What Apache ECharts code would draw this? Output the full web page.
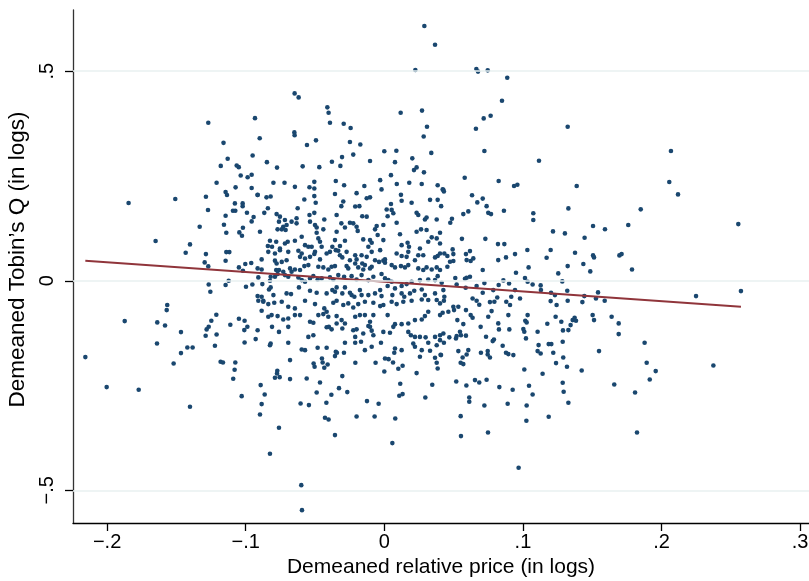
<!DOCTYPE html>
<html><head><meta charset="utf-8">
<script src="https://cdn.jsdelivr.net/npm/echarts@6/dist/echarts.min.js"></script>
<style>html,body{margin:0;padding:0;background:#fff}#c{width:809px;height:581px}</style>
</head><body><div id="c"></div>
<script>
// Tick values
const xTicks = [-0.2, -0.1, 0, 0.1, 0.2, 0.3];
const yTicks = [-0.5, 0, 0.5];
// Fitted line endpoints (x at data min / max)
const fitX = [-0.2157, 0.2573];
const fitY = [0.0477, -0.0618];
// Observations: [demeaned relative price, demeaned Tobin's Q]
const obsUpperLeft = [
[-0.127,0.377],[-0.0933,0.388],[-0.0899,0.340],[-0.116,0.329],[-0.095,0.299],[-0.113,0.291],[-0.118,0.274],[-0.1065,0.275],[-0.105,0.271],[-0.1036,0.251],[-0.0986,0.247],[-0.0957,0.253],[-0.121,0.234]
];
const obsUpperMid = [
[0.0289,0.608],[0.0366,0.563],[0.0224,0.503],[-0.0647,0.447],[-0.0618,0.4375],[-0.0411,0.4137],[-0.0402,0.401],[0.0118,0.401],[0.0272,0.406],[-0.0392,0.377],[-0.0293,0.3747],[-0.0243,0.3644],[0.0308,0.3675],[-0.0649,0.354],[-0.0647,0.347],[-0.0558,0.324],[-0.0493,0.335],[-0.0248,0.331],[-0.0173,0.325],[-0.0224,0.301],[0,0.309],[0.0087,0.310],[0.0284,0.344],[0.0339,0.305],[-0.0847,0.283],[-0.0774,0.270],[-0.0589,0.273],[-0.0469,0.271],[-0.0378,0.284],[-0.0305,0.295],[-0.0317,0.274],[-0.0103,0.2856],[0.0077,0.283],[0.0202,0.292],[0.0233,0.2705],[0.0214,0.264],[0.0286,0.2586],[0.0048,0.252],
[0.0664,0.505],[0.0676,0.499],[0.0746,0.502],[0.0887,0.4845],[0.0849,0.4296],[0.0717,0.3874],[0.0767,0.3938],[0.0661,0.3628],[0.1323,0.3675],[0.0722,0.3095],[0.1116,0.2864],[0.058,0.2458],
[0.2068,0.3095]
];
const obsLeft = [
[-0.1073,0.2228],[-0.0957,0.2212],[-0.1145,0.2116],[-0.1135,0.2045],[-0.1287,0.2005],[-0.0914,0.2045],[-0.1845,0.1854],[-0.1508,0.195],[-0.1078,0.1846],[-0.1022,0.1846],[-0.1022,0.178],[-0.1272,0.1687],[-0.1092,0.167],[-0.1075,0.167],[-0.0991,0.1623],[-0.0943,0.152],[-0.0957,0.1416],[-0.1145,0.1551],[-0.1332,0.1289],[-0.1157,0.1337],[-0.114,0.1146],[-0.1046,0.1154],[-0.102,0.1265],[-0.1027,0.1074],[-0.165,0.0947],[-0.1402,0.0867],[-0.1433,0.0668],[-0.1287,0.0636],[-0.114,0.0684],[-0.1118,0.0684],[-0.1296,0.0438],[-0.127,0.0342],[-0.1145,0.0477],[-0.1049,0.0318],[-0.1003,0.0398],[-0.096,0.0422],[-0.102,0.0239],[-0.1123,0],[-0.1145,-0.0103],[-0.1267,-0.0088],[-0.1255,-0.0263],[-0.0998,-0.0143],[-0.0952,-0.0088],[-0.0909,-0.0477],[-0.1566,-0.058],[-0.157,-0.07],[-0.1873,-0.0963],[-0.1638,-0.0994],[-0.1582,-0.1066],[-0.1467,-0.1225],[-0.1212,-0.0811],[-0.1248,-0.0955],[-0.1267,-0.1098],[-0.1282,-0.1161],[-0.1289,-0.1313],[-0.121,-0.1281],[-0.1111,-0.105],[-0.1049,-0.0907],[-0.1008,-0.0955],[-0.0988,-0.1098],[-0.101,-0.1177],[-0.0928,-0.1392],[-0.1008,-0.1472],[-0.1222,-0.1551],[-0.164,-0.1496],[-0.1421,-0.1591],[-0.1383,-0.1591]
];
const obsCenter = [
[-0.080,0.234],[-0.072,0.234],[-0.0645,0.224],[-0.054,0.223],[-0.0505,0.236],[-0.0505,0.220],[-0.035,0.238],[-0.029,0.228],[-0.0144,0.226],[-0.003,0.240],[-0.002,0.218],[0.009,0.231],[0.018,0.234],[0.027,0.231],[0.0385,0.228],[0.0426,0.217],
[-0.0914,0.205],[-0.085,0.199],[-0.082,0.201],[-0.0505,0.202],[-0.0356,0.207],[-0.020,0.209],[-0.0103,0.199],[-0.0127,0.197],[0.012,0.205],[0.0197,0.186],[0.033,0.193],[0.0385,0.193],
[-0.084,0.173],[-0.0866,0.162],[-0.0625,0.173],[-0.0495,0.186],[-0.0577,0.194],[-0.031,0.178],[-0.0296,0.189],[-0.021,0.177],[-0.018,0.178],[0.0048,0.183],[0.0125,0.191],[0.0017,0.170],[0.0053,0.169],[0.0233,0.162],[0.041,0.178],
[-0.0777,0.159],[-0.0753,0.153],[-0.0717,0.145],[-0.076,0.141],[-0.0669,0.141],[-0.0633,0.149],[-0.0633,0.137],[-0.054,0.157],[-0.0505,0.162],[-0.0536,0.141],[-0.050,0.133],[-0.0433,0.146],[-0.0344,0.157],[-0.031,0.137],[-0.0248,0.1385],[-0.0224,0.137],[-0.0159,0.154],[-0.0127,0.153],[0.0024,0.154],[0.0065,0.161],[0.0089,0.1385],[0.0245,0.157],[0.0293,0.146],[0.0305,0.151],[0.0378,0.146],
[-0.0897,0.117],[-0.077,0.1226],[-0.0729,0.129],[-0.074,0.1226],[-0.0705,0.133],[-0.0712,0.121],[-0.0488,0.127],[-0.0488,0.1146],[-0.044,0.1226],[-0.0344,0.117],[-0.0284,0.127],[-0.020,0.129],[-0.0192,0.119],[-0.0067,0.1226],[-0.0055,0.1305],[-0.0007,0.133],[-0.0048,0.109],[0.0113,0.111],[0.0233,0.117],[0.0265,0.1226],[0.0305,0.121],[0.0402,0.1146],
[-0.0825,0.0955],[-0.084,0.083],[-0.081,0.081],[-0.0753,0.077],[-0.078,0.093],[-0.0717,0.089],[-0.0697,0.093],[-0.0645,0.0955],[-0.0596,0.105],[-0.0476,0.101],[-0.0464,0.093],[-0.0572,0.085],[-0.0548,0.081],[-0.0524,0.081],[-0.0452,0.081],[-0.0356,0.097],[-0.0284,0.0955],[-0.0375,0.081],[-0.032,0.083],[-0.0152,0.0987],[-0.0103,0.097],[-0.0091,0.0907],[-0.0115,0.081],[-0.0007,0.097],[0.0125,0.085],[0.0168,0.0907],[0.0178,0.081],[0.0257,0.077],[0.0317,0.093],[0.0342,0.1035],[0.0378,0.101],[0.0402,0.089],
[-0.0885,0.051],[-0.0837,0.069],[-0.0789,0.065],[-0.0753,0.073],[-0.0693,0.069],[-0.062,0.0716],[-0.0596,0.065],[-0.0608,0.057],[-0.0572,0.053],[-0.0536,0.057],[-0.050,0.069],[-0.0505,0.064],[-0.0464,0.051],[-0.0416,0.065],[-0.0392,0.069],[-0.035,0.073],[-0.0332,0.0716],[-0.032,0.061],[-0.0272,0.069],[-0.0303,0.0557],[-0.0248,0.049],[-0.021,0.061],[-0.020,0.051],[-0.0159,0.041],[-0.0164,0.061],[-0.0127,0.057],[-0.0091,0.069],[-0.003,0.073],[-0.0067,0.049],[-0.0038,0.045],[-0.0007,0.048],[0.0005,0.051],[0.0089,0.065],[0.0125,0.059],[0.0161,0.057],[0.0173,0.069],[0.0221,0.049],[0.0245,0.061],[0.0281,0.061],[0.0366,0.0557],[0.0385,0.059],[0.0402,0.065],[0.0433,0.065],
[-0.0914,0.0295],[-0.0885,0.027],[-0.0789,0.048],[-0.0777,0.041],[-0.074,0.045],[-0.0705,0.049],[-0.068,0.0295],[-0.078,0.0255],[-0.076,0.0255],[-0.0729,0.0215],[-0.0669,0.0215],[-0.0645,0.027],[-0.0608,0.0255],[-0.0577,0.035],[-0.0548,0.0374],[-0.0476,0.0334],[-0.044,0.0318],[-0.0404,0.027],[-0.038,0.0334],[-0.0356,0.035],[-0.0272,0.035],[-0.026,0.0295],[-0.021,0.041],[-0.0188,0.0318],[-0.014,0.0374],[-0.0152,0.027],[-0.0103,0.0295],[-0.0091,0.0334],[0.0005,0.043],[0.0053,0.0374],[0.0077,0.0318],[0.012,0.035],[0.0149,0.0318],[0.0173,0.0374],[0.0245,0.0295],[0.0281,0.0255],[0.0305,0.0318],[0.0342,0.027],[0.0378,0.0318],[0.0402,0.0255],
[-0.0909,0.008],[-0.088,-0.008],[-0.0825,0],[-0.082,0.0096],[-0.0789,0.0096],[-0.077,0.016],[-0.0717,0.0135],[-0.0693,0.0096],[-0.062,0.008],[-0.0596,0.0016],[-0.0572,-0.0024],[-0.0536,0.0056],[-0.0512,0.011],[-0.0481,0.003],[-0.0452,0.0056],[-0.0392,0.008],[-0.0368,0.003],[-0.0332,0.0135],[-0.029,0.0096],[-0.0236,0.011],[-0.020,0.003],[-0.0164,0.0135],[-0.0115,0.0016],[-0.0079,0.0096],[-0.002,0.016],[0.0005,0.0056],[0.0029,0.0016],[0.0024,-0.0127],[0.0053,-0.0024],[0.0125,-0.0127],[0.0161,-0.008],[0.0197,-0.0024],[0.0257,0.0016],[0.0317,0.003],[0.0366,0.0016],[0.0385,0.011],[0.0414,-0.0048],
[-0.0914,-0.0366],[-0.0885,-0.0382],[-0.0832,-0.0207],[-0.082,-0.0159],[-0.080,-0.0342],[-0.0873,-0.0478],[-0.0705,-0.0302],[-0.0673,-0.0318],[-0.0616,-0.0159],[-0.0536,-0.0239],[-0.0488,-0.0287],[-0.0416,-0.0302],[-0.0375,-0.0223],[-0.0344,-0.0159],[-0.0356,-0.0263],[-0.0284,-0.0159],[-0.0303,-0.0302],[-0.0248,-0.0287],[-0.0236,-0.0342],[-0.0216,-0.0382],[-0.0176,-0.0223],[-0.0164,-0.0342],[-0.0115,-0.0342],[-0.0067,-0.0302],[-0.003,-0.0223],[-0.002,-0.0366],[0.0058,-0.0342],[0.0077,-0.0183],[0.0125,-0.0302],[0.0144,-0.0382],[0.0185,-0.0302],[0.0216,-0.0239],[0.027,-0.0207],[0.0293,-0.0342],[0.0366,-0.0302],[0.0426,-0.0223],
[-0.0873,-0.050],[-0.0837,-0.0557],[-0.0794,-0.0525],[-0.074,-0.050],[-0.0693,-0.062],[-0.0645,-0.066],[-0.0572,-0.0478],[-0.050,-0.0557],[-0.0433,-0.066],[-0.0416,-0.074],[-0.0368,-0.0525],[-0.0344,-0.0478],[-0.0296,-0.058],[-0.026,-0.054],[-0.0224,-0.0637],[-0.0188,-0.0557],[-0.014,-0.050],[-0.0079,-0.0525],[-0.003,-0.0605],[-0.0007,-0.058],[0.0053,-0.050],[0.0089,-0.0557],[0.0137,-0.050],[0.0197,-0.0478],[0.027,-0.0446],[0.0317,-0.046],[0.0378,-0.046],[0.0402,-0.054],
[-0.0885,-0.0716],[-0.0837,-0.086],[-0.0813,-0.082],[-0.077,-0.0844],[-0.0729,-0.0923],[-0.0693,-0.090],[-0.0645,-0.082],[-0.0608,-0.082],[-0.0536,-0.098],[-0.0512,-0.1003],[-0.0476,-0.082],[-0.044,-0.0796],[-0.0404,-0.086],[-0.0344,-0.0844],[-0.0308,-0.0939],[-0.0344,-0.102],[-0.0284,-0.102],[-0.021,-0.086],[-0.0176,-0.082],[-0.014,-0.082],[-0.0079,-0.082],[-0.0103,-0.098],[-0.0115,-0.108],[0.0024,-0.082],[0.0077,-0.1035],[0.0125,-0.1035],[0.0173,-0.102],[0.0221,-0.0939],[0.027,-0.0923],[0.0293,-0.0844],[0.0317,-0.074],[0.0402,-0.082],
[-0.0914,-0.118],[-0.081,-0.11],[-0.076,-0.122],[-0.0693,-0.11],[-0.0548,-0.134],[-0.0512,-0.13],[-0.0416,-0.111],[-0.040,-0.11],[-0.038,-0.116],[-0.0303,-0.114],[-0.0224,-0.118],[-0.020,-0.116],[-0.021,-0.134],[-0.0152,-0.126],[-0.0103,-0.11],[-0.0091,-0.119],[-0.0079,-0.13],[-0.0007,-0.122],[0.0041,-0.124],[0.0065,-0.11],[0.0173,-0.122],[0.0192,-0.13],[0.0221,-0.134],[0.0257,-0.134],[0.0298,-0.135],[0.0366,-0.134],[0.0402,-0.13],
[-0.082,-0.150],[-0.0825,-0.154],[-0.0693,-0.148],[-0.0596,-0.164],[-0.0572,-0.1656],[-0.0481,-0.16],[-0.0416,-0.16],[-0.035,-0.1695],[-0.0284,-0.148],[-0.021,-0.148],[-0.0168,-0.1457],[-0.014,-0.1656],[-0.0091,-0.1576],[-0.0024,-0.148],[0.0077,-0.1616],[0.0125,-0.1656],[0.0209,-0.150],[0.0221,-0.1576],[0.027,-0.1656],[0.0317,-0.148],[0.033,-0.167],[0.0378,-0.154],[0.0402,-0.1417]
];
const obsRight = [
[0.0825,0.238],[0.0421,0.218],[0.043,0.213],[0.0936,0.226],[0.096,0.229],[0.1388,0.226],[0.0633,0.204],[0.071,0.196],[0.0671,0.187],[0.0738,0.178],[0.075,0.162],[0.077,0.159],[0.0606,0.1655],[0.057,0.159],[0.0863,0.167],[0.1328,0.1726],[0.1075,0.161],[0.1075,0.145],[0.0488,0.148],[0.0476,0.1385],[0.056,0.1],[0.0729,0.1],[0.082,0.0875],[0.0866,0.0875],[0.1217,0.1177],[0.1303,0.113],[0.1506,0.1305],[0.1592,0.123],[0.176,0.133],[0.1445,0.1026],
[0.0493,0.0748],[0.0498,0.0636],[0.0455,0.0589],[0.0589,0.0636],[0.0618,0.0708],[0.0594,0.0493],[0.0623,0.047],[0.0642,0.0533],[0.0474,0.0453],[0.0498,0.047],[0.0455,0.0334],[0.0822,0.0493],[0.0878,0.0557],[0.0943,0.0636],[0.1032,0.0732],[0.12,0.0732],[0.1171,0.0549],[0.071,0.0255],[0.095,0.019],[0.1041,0.0318],[0.1323,0.035],[0.1376,0.0668],[0.1436,0.0398],[0.1506,0.0605],[0.1513,0.0557],[0.1696,0.0605],[0.1712,0.0636],[0.1486,0.0223],[0.1255,0.0175],
[0.0512,0.0064],[0.0582,0.0048],[0.0594,0.0072],[0.0618,0.0095],[0.0722,-0.0056],[0.0859,0.0008],[0.09,-0.0064],[0.1015,0.0064],[0.1034,-0.0024],[0.107,-0.0088],[0.1128,-0.0111],[0.1284,-0.0016],[0.113,-0.0223],[0.0522,-0.0088],[0.0587,-0.0167],[0.0666,-0.0127],[0.0786,-0.0223],[0.0825,-0.0103],[0.0943,-0.0223],[0.0979,-0.0422],[0.0916,-0.0382],[0.088,-0.05],[0.0907,-0.058],[0.0815,-0.0398],[0.0794,-0.05],[0.0762,-0.0509],[0.0685,-0.0573],[0.0666,-0.0477],[0.0637,-0.0422],[0.071,-0.0286],[0.0433,-0.0382],[0.043,-0.0477],[0.0498,-0.062],[0.0503,-0.07],[0.0534,-0.062],[0.0421,-0.0764],[0.0462,-0.074],[0.0589,-0.07],[0.0623,-0.082],[0.0637,-0.0883],[0.0774,-0.0724],[0.075,-0.0859],[0.0895,-0.082],[0.1034,-0.082],[0.1017,-0.0955],[0.1027,-0.0994],[0.1003,-0.1154],[0.101,-0.1217],[0.1022,-0.1376],
[0.1203,-0.0286],[0.1231,-0.0342],[0.1243,-0.058],[0.12,-0.0485],[0.1323,-0.0477],[0.1429,-0.0509],[0.1443,-0.0366],[0.1527,-0.0422],[0.1542,-0.0278],[0.159,-0.0477],[0.132,-0.0239],[0.1236,-0.0859],[0.1277,-0.0978],[0.1344,-0.1058],[0.1359,-0.0939],[0.1383,-0.0955],[0.1373,-0.0883],[0.1328,-0.1177],[0.1289,-0.1185],[0.1176,-0.1026],[0.1106,-0.1217],[0.1113,-0.1535],[0.1186,-0.1512],[0.1205,-0.1512],[0.1287,-0.1456],[0.1503,-0.082],[0.1513,-0.0939],[0.164,-0.0859],[0.1691,-0.1018],[0.1691,-0.1273],
[0.0426,-0.1257],[0.043,-0.148],[0.0469,-0.135],[0.0522,-0.132],[0.0517,-0.1376],[0.0546,-0.1217],[0.0553,-0.13],[0.0589,-0.131],[0.057,-0.1034],[0.0527,-0.0939],[0.0695,-0.11],[0.0734,-0.1337],[0.0782,-0.144],[0.0791,-0.14],[0.0827,-0.1161],[0.0822,-0.1018],[0.0854,-0.155],[0.0902,-0.1161],
[0.2056,0.2355],[0.2119,0.206],[0.185,0.1703],[0.2554,0.1352],[0.1787,0.027],[0.2249,-0.0366],[0.2573,-0.0247],[0.1878,-0.148]
];
const obsLower = [
[-0.2157,-0.1822],[-0.1467,-0.1726],[-0.152,-0.1973],[-0.2003,-0.2538],[-0.1772,-0.2601],[-0.1402,-0.3007],[-0.1181,-0.1933],[-0.1164,-0.1949],[-0.1075,-0.1949],[-0.108,-0.2124],[-0.109,-0.2339],[-0.1029,-0.2753],[-0.0892,-0.249],[-0.0885,-0.2943],[-0.0897,-0.319],
[-0.0863,-0.2713],[-0.0825,-0.4129],[-0.076,-0.3508],[-0.0789,-0.2315],[-0.0772,-0.2148],[-0.0774,-0.2211],[-0.0755,-0.23],[-0.068,-0.1893],[-0.068,-0.2347],[-0.0604,-0.2928],[-0.0544,-0.2967],[-0.0599,-0.4877],[-0.0594,-0.5473],[-0.056,-0.2331],[-0.051,-0.1973],[-0.0503,-0.2052],[-0.0488,-0.2665],[-0.0464,-0.2426],[-0.045,-0.1854],[-0.0445,-0.1949],[-0.0433,-0.2076],[-0.0409,-0.1997],[-0.0418,-0.2912],[-0.0428,-0.327],[-0.0402,-0.331],[-0.0356,-0.3683],[-0.0382,-0.2721],[-0.0356,-0.1798],[-0.0342,-0.1718],[-0.0327,-0.2562],[-0.0303,-0.2275],[-0.0267,-0.2657],[-0.0291,-0.1718],[-0.0209,-0.1957],[-0.02,-0.3238],[-0.0125,-0.2872],[-0.007,-0.3238],[-0.0041,-0.2936],[-0.0063,-0.1957],[0,-0.2164],[0.0005,-0.1854],[0.0031,-0.187],[0.0063,-0.1949],[0.0072,-0.1718],[0.0058,-0.3874],[0.0079,-0.3286],[0.0101,-0.21],[0.0115,-0.2458],[0.0132,-0.2029],[0.0108,-0.2745],[0.0132,-0.2705],[0.0233,-0.2204],[0.0257,-0.1814],[0.0296,-0.2784],[0.0346,-0.2482],[0.0378,-0.1957],[0.0385,-0.2092],[0.0406,-0.1766],[0.0366,-0.1838],
[0.0534,-0.1679],[0.0606,-0.1655],[0.0697,-0.1718],[0.0746,-0.1679],[0.0746,-0.1758],[0.0762,-0.183],[0.0878,-0.1718],[0.0895,-0.175],[0.0931,-0.1774],[0.1106,-0.1679],[0.1128,-0.1734],[0.1219,-0.1718],[0.1291,-0.183],[0.1549,-0.1679],[0.0409,-0.1774],[0.0565,-0.183],[0.0594,-0.1758],[0.0551,-0.1957],[0.057,-0.1989],[0.0519,-0.2403],[0.0592,-0.2498],[0.0654,-0.2371],[0.0685,-0.2426],[0.0738,-0.2363],[0.0613,-0.2784],[0.0613,-0.2888],[0.0722,-0.2975],[0.083,-0.2538],[0.0926,-0.2601],[0.101,-0.2116],[0.1044,-0.2506],[0.107,-0.2713],[0.089,-0.2936],[0.1027,-0.2975],[0.1025,-0.3341],[0.0551,-0.323],[0.0553,-0.3707],[0.0748,-0.362],[0.0969,-0.4463],[0.1186,-0.3246],[0.1142,-0.222],[0.1239,-0.1965],[0.1318,-0.2052],[0.1287,-0.2434],[0.1294,-0.2649],[0.1328,-0.2912],[0.1424,-0.214],[0.1659,-0.2474],
[0.1893,-0.1957],[0.1958,-0.2156],[0.1915,-0.2355],[0.1809,-0.2665],[0.1823,-0.362],[0.2374,-0.2021]
];

const observations = [].concat(obsUpperLeft, obsUpperMid, obsLeft, obsCenter, obsRight, obsLower);

function fmt(v) {
  if (Math.abs(v) < 1e-9) return '0';
  const s = String(Math.abs(Math.round(v * 10) / 10)).replace(/^0\./, '.');
  return (v < 0 ? '\u2212' : '') + s;
}

const chart = echarts.init(document.getElementById('c'), null, {renderer: 'canvas'});
const font = '"Liberation Sans", Arial, Helvetica, sans-serif';
chart.setOption({
  animation: false,
  backgroundColor: '#ffffff',
  grid: {left: 73, right: 0, top: 10, bottom: 58, containLabel: false, outerBoundsMode: 'none'},
  xAxis: {
    type: 'value', min: -0.2246, max: 0.3064,
    name: 'Demeaned relative price (in logs)', nameLocation: 'middle', nameGap: 33,
    nameTextStyle: {fontFamily: font, fontSize: 21, color: '#000'},
    axisLine: {show: true, onZero: false, lineStyle: {color: '#000', width: 1.3}},
    axisTick: {show: true, customValues: xTicks, length: 8, lineStyle: {color: '#000', width: 1.3}},
    axisLabel: {customValues: xTicks, formatter: fmt, fontFamily: font, fontSize: 20, color: '#000', margin: 9},
    splitLine: {show: false}
  },
  yAxis: {
    type: 'value', min: -0.578, max: 0.646,
    name: 'Demeaned Tobin\u2019s Q (in logs)', nameLocation: 'middle', nameGap: 37,
    nameTextStyle: {fontFamily: font, fontSize: 22.5, color: '#000', padding: [0, 0, 0, 14]},
    axisLine: {show: true, onZero: false, lineStyle: {color: '#333', width: 1.3}},
    axisTick: {show: true, customValues: yTicks, length: 8, lineStyle: {color: '#000', width: 1.3}},
    axisLabel: {customValues: yTicks, formatter: fmt, rotate: 90, fontFamily: font, fontSize: 20, color: '#000', margin: 16},
    splitLine: {show: false}
  },
  series: [
    {
      type: 'line', data: [], z: 1, silent: true,
      markLine: {
        silent: true, symbol: 'none', label: {show: false},
        lineStyle: {color: '#e9f0f1', width: 1.6, type: 'solid'},
        data: yTicks.map(v => ({yAxis: v}))
      }
    },
    {
      type: 'scatter', data: observations, z: 2, silent: true,
      symbol: 'circle', symbolSize: 4.6,
      itemStyle: {color: '#1a476f', opacity: 1}
    },
    {
      type: 'line', z: 3, silent: true, symbol: 'none',
      data: fitX.map((x, i) => [x, fitY[i]]),
      lineStyle: {color: '#90353b', width: 2}
    }
  ]
});
</script></body></html>
